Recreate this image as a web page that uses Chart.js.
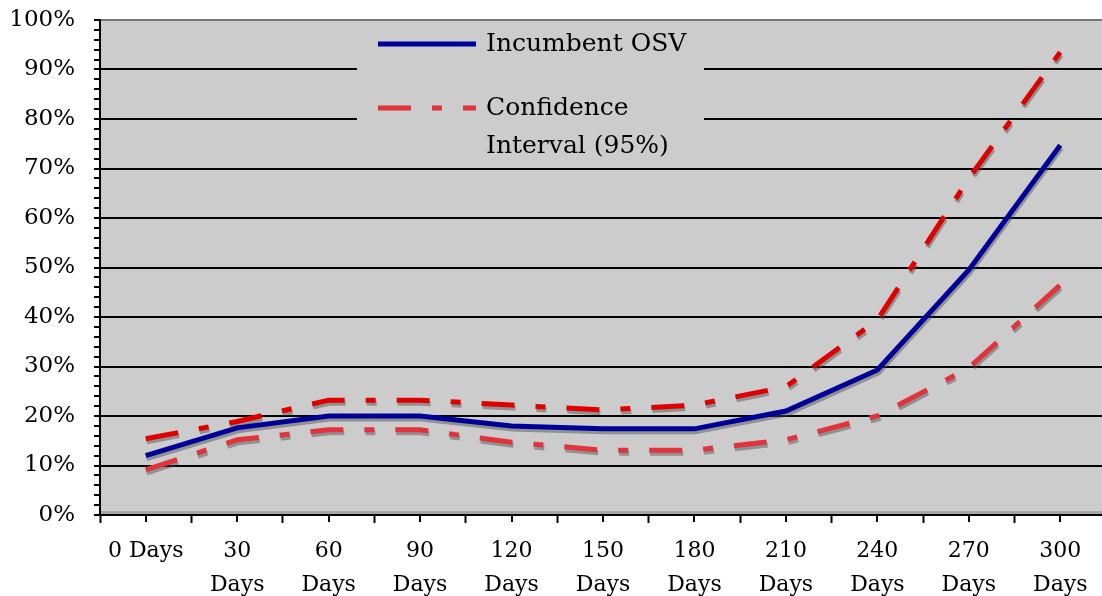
<!DOCTYPE html>
<html>
<head>
<meta charset="utf-8">
<script src="https://cdn.jsdelivr.net/npm/chart.js@4/dist/chart.umd.min.js"></script>
<style>
  html, body { margin: 0; padding: 0; background: #fff; overflow: hidden; }
  .wrap { position: relative; width: 1106px; height: 596px; }
</style>
</head>
<body>
<div class="wrap"><canvas id="osv"></canvas></div>
<script>
// data (percent)
const labels = ['0 Days', ['30', 'Days'], ['60', 'Days'], ['90', 'Days'], ['120', 'Days'], ['150', 'Days'],
  ['180', 'Days'], ['210', 'Days'], ['240', 'Days'], ['270', 'Days'], ['300', 'Days']]
const incumbent = [12, 17.6, 20, 20, 18, 17.4, 17.4, 21, 29.3, 49.5, 74.7]
const ciUpper = [15.4, 18.9, 23.2, 23.2, 22.2, 21.2, 22.2, 25.9, 39.4, 68, 93.5]
const ciLower = [9.1, 15.2, 17.2, 17.2, 14.7, 13.1, 13.1, 15.2, 20, 29.7, 46.5]
const legendNames = ['Incumbent OSV', ['Confidence', 'Interval (95%)']]

const FONT = '"DejaVu Serif", serif'
const BLUE = '#000099'
const RED = '#e00000'
const RED2 = '#e2323a'
const DASH = [33, 21, 10, 21]

// gray plot background + bottom floor strip
const plotBg = {
  id: 'plotBg',
  beforeDraw(chart){
    const {ctx, chartArea: a} = chart
    ctx.save()
    ctx.fillStyle = '#cccccc'
    ctx.fillRect(a.left, a.top, a.right - a.left, a.bottom - a.top)
    ctx.fillStyle = '#a6a6a6'
    ctx.fillRect(a.left, a.bottom - 4, a.right - a.left, 4)
    ctx.restore()
  }
}

// drop shadow under the lines
const lineShadow = {
  id: 'lineShadow',
  beforeDatasetDraw(chart){
    const ctx = chart.ctx
    ctx.save()
    ctx.shadowColor = 'rgba(70,70,70,0.45)'
    ctx.shadowOffsetX = 1
    ctx.shadowOffsetY = 3
    ctx.shadowBlur = 0
  },
  afterDatasetDraw(chart){
    chart.ctx.restore()
  }
}

// legend box sitting inside the plot area
const boxLegend = {
  id: 'boxLegend',
  beforeDatasetsDraw(chart){
    const {ctx, chartArea: a} = chart
    ctx.save()
    ctx.fillStyle = '#cccccc'
    ctx.fillRect(a.left + 257, a.top + 2, 347, 144)
    ctx.restore()
  },
  afterDatasetsDraw(chart){
    const {ctx, chartArea: a} = chart
    const x0 = a.left + 278, x1 = a.left + 376, tx = a.left + 386
    ctx.save()
    ctx.lineWidth = 5
    ctx.lineCap = 'butt'
    ctx.strokeStyle = BLUE
    ctx.beginPath(); ctx.moveTo(x0, a.top + 24); ctx.lineTo(x1, a.top + 24); ctx.stroke()
    ctx.strokeStyle = RED2
    ctx.setLineDash(DASH)
    ctx.beginPath(); ctx.moveTo(x0, a.top + 88); ctx.lineTo(x1, a.top + 88); ctx.stroke()
    ctx.setLineDash([])
    ctx.fillStyle = '#000'
    ctx.font = '25px ' + FONT
    ctx.textBaseline = 'middle'
    ctx.fillText(legendNames[0], tx, a.top + 24)
    ctx.fillText(legendNames[1][0], tx, a.top + 88)
    ctx.fillText(legendNames[1][1], tx, a.top + 126)
    ctx.restore()
  },
  afterDraw(chart){
    // small ticks at category centres too
    const {ctx, chartArea: a, scales: {x}} = chart
    ctx.save()
    ctx.strokeStyle = '#000'
    ctx.lineWidth = 2
    labels.forEach((l, i) => {
      const px = Math.round(x.getPixelForValue(i))
      ctx.beginPath(); ctx.moveTo(px, a.bottom); ctx.lineTo(px, a.bottom + 7); ctx.stroke()
    })
    ctx.restore()
  }
}

new Chart(document.getElementById('osv'), {
  type: 'line',
  data: {
    labels: labels,
    datasets: [
      {
        label: 'Incumbent OSV',
        data: incumbent,
        borderColor: BLUE,
        borderWidth: 5,
        pointRadius: 0,
        tension: 0
      },
      {
        label: 'Confidence Interval (95%)',
        data: ciUpper,
        borderColor: RED,
        borderWidth: 5,
        borderDash: DASH,
        pointRadius: 0,
        tension: 0
      },
      {
        label: 'Confidence Interval (95%) lower',
        data: ciLower,
        borderColor: RED2,
        borderWidth: 5,
        borderDash: DASH,
        pointRadius: 0,
        tension: 0
      }
    ]
  },
  options: {
    responsive: true,
    maintainAspectRatio: false,
    animation: false,
    layout: { padding: 0 },
    plugins: {
      legend: { display: false },
      tooltip: { enabled: false }
    },
    scales: {
      x: {
        offset: true,
        afterFit: s => { s.height = 81 },
        grid: {
          offset: true,
          drawOnChartArea: false,
          color: '#000',
          tickColor: '#000',
          tickWidth: 2,
          tickLength: 8
        },
        border: { color: '#000', width: 2 },
        ticks: {
          color: '#000',
          font: { family: FONT, size: 22, lineHeight: 1.55 },
          padding: 11,
          maxRotation: 0,
          autoSkip: false
        }
      },
      y: {
        min: 0,
        max: 100,
        afterFit: s => { s.width = 100; s.paddingTop = 20; s.paddingBottom = 0 },
        grid: {
          color: ctx => ctx.tick && ctx.tick.value % 10 === 0 ? (ctx.tick.value === 100 ? '#777' : '#000') : 'rgba(0,0,0,0)',
          lineWidth: 2,
          tickColor: '#000',
          tickWidth: 2,
          tickLength: 6
        },
        border: { color: '#000', width: 2 },
        ticks: {
          stepSize: 2,
          autoSkip: false,
          color: '#000',
          padding: 19,
          font: { family: FONT, size: 23 },
          callback: v => v % 10 === 0 ? v + '%' : ''
        }
      }
    }
  },
  plugins: [plotBg, lineShadow, boxLegend]
})
</script>
</body>
</html>
